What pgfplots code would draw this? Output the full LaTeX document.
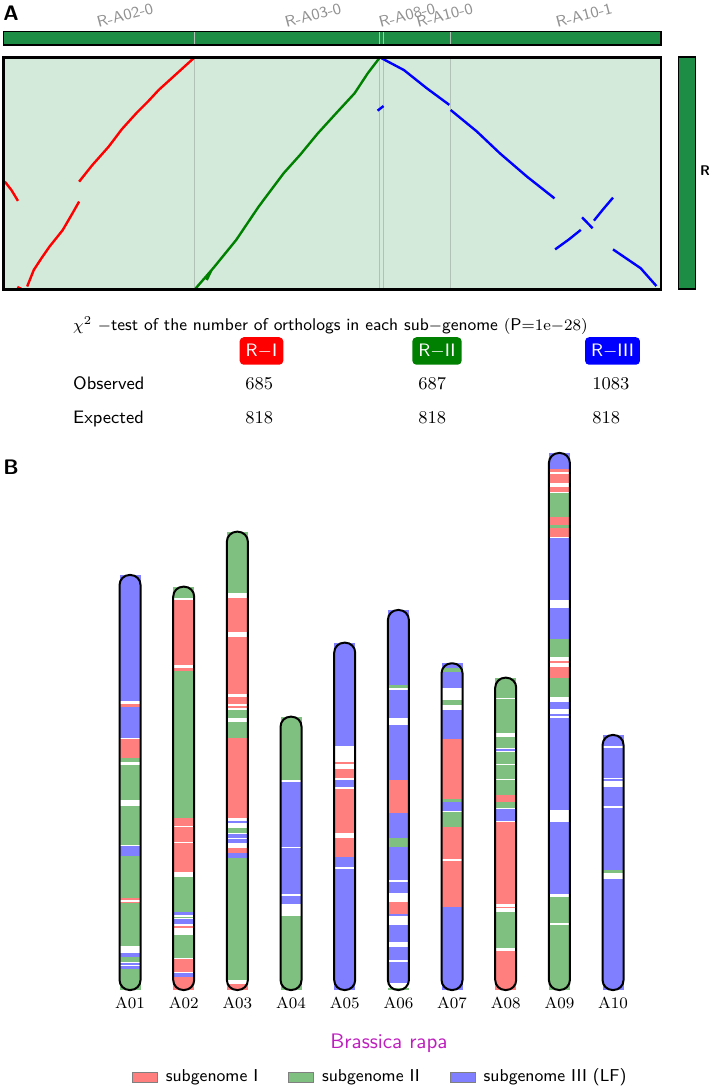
\documentclass[border=0pt]{standalone}
\usepackage{pgfplots}
\pgfplotsset{compat=1.18}
\definecolor{bgA}{RGB}{211,233,217}
\definecolor{barG}{RGB}{29,140,69}
\definecolor{sepG}{RGB}{176,194,182}
\definecolor{lnR}{RGB}{255,0,0}
\definecolor{lnG}{RGB}{0,128,0}
\definecolor{lnB}{RGB}{0,0,255}
\definecolor{sgR}{RGB}{255,127,127}
\definecolor{sgG}{RGB}{127,191,127}
\definecolor{sgB}{RGB}{127,127,255}
\definecolor{lblGray}{RGB}{145,145,145}
\definecolor{spec}{RGB}{190,30,190}

\begin{document}
\begin{tikzpicture}
\path[use as bounding box] (0,0) rectangle (355.5pt,544pt);

% ---- panel A: bar on top
\begin{axis}[at={(1.75pt,521.5pt)}, anchor=south west, scale only axis,
  width=328.75pt, height=6.65pt, xmin=0, xmax=1, ymin=0, ymax=1,
  xtick=\empty, ytick=\empty, axis background/.style={fill=barG},
  axis line style={line width=0.6pt}, axis on top, unbounded coords=jump]
\addplot[sepG, line width=0.6pt] coordinates {(0.290,0)(0.290,1)(0,nan)(0.572,0)(0.572,1)(0,nan)(0.578,0)(0.578,1)(0,nan)(0.680,0)(0.680,1)};
\end{axis}

% ---- panel A: dot plot
\begin{axis}[at={(1.75pt,399.35pt)}, anchor=south west, scale only axis,
  width=328.75pt, height=116pt, xmin=0, xmax=1, ymin=0, ymax=1,
  xtick=\empty, ytick=\empty, axis background/.style={fill=bgA},
  axis line style={line width=1.4pt}, axis on top, unbounded coords=jump]
\addplot[sepG, line width=0.6pt] coordinates {(0.290,0)(0.290,1)(0,nan)(0.572,0)(0.572,1)(0,nan)(0.578,0)(0.578,1)(0,nan)(0.680,0)(0.680,1)};
\addplot[lnR, line width=1.2pt] coordinates {
  (0.002,0.464)(0.012,0.428)(0.022,0.381)(0,nan)
  (0.021,0.010)(0.027,0.002)(0,nan)
  (0.036,0.012)(0.046,0.083)(0.058,0.135)(0.070,0.184)(0.090,0.255)(0.105,0.328)(0.115,0.378)(0,nan)
  (0.115,0.464)(0.135,0.535)(0.160,0.615)(0.180,0.690)(0.202,0.759)(0.220,0.810)(0.236,0.859)(0.264,0.931)(0.290,0.998)};
\addplot[lnG, line width=1.2pt] coordinates {
  (0.292,0.003)(0.319,0.091)(0.354,0.213)(0.388,0.356)(0.426,0.500)(0.451,0.579)(0.478,0.672)(0.506,0.759)(0.534,0.845)(0.554,0.931)(0.5715,0.996)(0,nan)
  (0.309,0.040)(0.316,0.080)};
\addplot[lnB, line width=1.2pt] coordinates {
  (0.575,0.996)(0.609,0.945)(0.644,0.866)(0.678,0.795)(0,nan)
  (0.680,0.773)(0.720,0.680)(0.755,0.586)(0.796,0.486)(0.838,0.392)(0,nan)
  (0.569,0.770)(0.578,0.790)(0,nan)
  (0.839,0.172)(0.860,0.215)(0.878,0.256)(0,nan)
  (0.898,0.296)(0.912,0.345)(0.927,0.395)(0,nan)
  (0.880,0.310)(0.896,0.263)(0,nan)
  (0.927,0.172)(0.969,0.091)(0.993,0.014)};
\end{axis}

% ---- panel A: bar on the right
\begin{axis}[at={(339.3pt,399.35pt)}, anchor=south west, scale only axis,
  width=8.45pt, height=116pt, xmin=0, xmax=1, ymin=0, ymax=1,
  xtick=\empty, ytick=\empty, axis background/.style={fill=barG},
  axis line style={line width=0.8pt}]
\end{axis}

\node[font=\fontsize{10.5}{12}\selectfont\sffamily\bfseries] at (5.5pt,537.5pt) {A};
\node[font=\fontsize{7}{8}\selectfont\sffamily\bfseries] at (352.5pt,458.5pt) {R};
\begin{scope}[every node/.style={rotate=15, inner sep=0pt, text=lblGray, font=\fontsize{7.8}{9}\selectfont\sffamily}]
\node at (62.5pt,536.3pt) {R-A02-0};
\node at (156.5pt,536.3pt) {R-A03-0};
\node at (203.5pt,536.3pt) {R-A08-0};
\node at (222.3pt,536.3pt) {R-A10-0};
\node at (292pt,536.3pt) {R-A10-1};
\end{scope}

% ---- chi-square table
\begin{scope}[every node/.style={font=\fontsize{9}{10}\selectfont\sffamily}]
\node[anchor=base west, inner xsep=0pt, font=\fontsize{8.5}{10}\selectfont\sffamily] at (36.4pt,378.7pt) {$\chi^2$ $-$test of the number of orthologs in each sub$-$genome $($P${=}1\mathrm{e}{-}28)$};
\node[fill=lnR, text=white, rounded corners=2pt, minimum height=12pt, inner xsep=3pt] at (130.75pt,368.5pt) {R$-$I};
\node[fill=lnG, text=white, rounded corners=2pt, minimum height=12pt, inner xsep=3pt] at (218.5pt,368.5pt) {R$-$II};
\node[fill=lnB, text=white, rounded corners=2pt, minimum height=12pt, inner xsep=3pt] at (306.25pt,368.5pt) {R$-$III};
\node[anchor=base west, inner xsep=0pt] at (36.4pt,349pt) {Observed};
\node[anchor=base west, inner xsep=0pt] at (122.5pt,349pt) {$685$};
\node[anchor=base west, inner xsep=0pt] at (209pt,349pt) {$687$};
\node[anchor=base west, inner xsep=0pt] at (296pt,349pt) {$1083$};
\node[anchor=base west, inner xsep=0pt] at (36.4pt,332pt) {Expected};
\node[anchor=base west, inner xsep=0pt] at (122.5pt,332pt) {$818$};
\node[anchor=base west, inner xsep=0pt] at (209pt,332pt) {$818$};
\node[anchor=base west, inner xsep=0pt] at (296pt,332pt) {$818$};
\end{scope}

\node[font=\fontsize{10.5}{12}\selectfont\sffamily\bfseries] at (5.5pt,310.5pt) {B};

% ---- panel B: chromosomes
\begin{axis}[at={(51.6pt,49pt)}, anchor=south west, scale only axis,
  width=268.35pt, height=270pt, xmin=0.5, xmax=10.5, ymin=0, ymax=540,
  axis x line*=bottom, axis y line=none, x axis line style={draw=none},
  xtick={1,...,10}, xticklabels={A01,A02,A03,A04,A05,A06,A07,A08,A09,A10},
  xtick style={draw=none}, xticklabel style={font=\fontsize{8}{9}\selectfont},
  clip=false, unbounded coords=jump,
  legend image code/.code={\draw[#1] (0pt,-2.5pt) rectangle (12.5pt,2.5pt);},
  legend columns=3,
  legend style={at={(0.518,-0.161)}, anchor=center, draw=none, fill=none,
    font=\fontsize{8.6}{10}\selectfont\sffamily,
    /tikz/every odd column/.append style={column sep=2pt},
    /tikz/every even column/.append style={column sep=13pt}}]
\addplot[sgR, line width=10.5pt, forget plot] coordinates {
  (1,282.5)(1,285.5)(1,nan)(1,231.5)(1,250.5)(1,nan)(1,90)(1,91.7)(1,nan)(1,86.7)(1,88.3)(1,nan)
  (2,325)(2,390)(2,nan)(2,319.3)(2,321.7)(2,nan)(2,164)(2,171.7)(2,nan)(2,148.3)(2,162.7)(2,nan)(2,118.3)(2,146.7)(2,nan)(2,61.7)(2,64)(2,nan)(2,18.3)(2,30.7)(2,nan)(2,0)(2,12.7)(2,nan)
  (3,358.3)(3,392.3)(3,nan)(3,295.7)(3,352.7)(3,nan)(3,285.7)(3,293.3)(3,nan)(3,282)(3,283.5)(3,nan)(3,171.7)(3,251.7)(3,nan)(3,136.7)(3,142.3)(3,nan)(3,0)(3,5.7)(3,nan)
  (5,226)(5,228.3)(5,nan)(5,211.7)(5,220.7)(5,nan)(5,156.7)(5,201)(5,nan)(5,132.7)(5,151.7)(5,nan)
  (6,176.7)(6,210)(6,nan)(6,75.7)(6,88.3)(6,nan)
  (7,191)(7,251)(7,nan)(7,131)(7,163.3)(7,nan)(7,83.3)(7,129)(7,nan)
  (8,188.3)(8,195)(8,nan)(8,85.7)(8,167.7)(8,nan)(8,81.7)(8,83.3)(8,nan)(8,0)(8,39.3)(8,nan)
  (9,517.5)(9,520.7)(9,nan)(9,506.7)(9,516)(9,nan)(9,498.3)(9,503.3)(9,nan)(9,465)(9,473.3)(9,nan)(9,453.3)(9,461.7)(9,nan)(9,327.3)(9,329.3)(9,nan)(9,311.7)(9,323.3)};
\addplot[sgG, line width=10.5pt, forget plot] coordinates {
  (1,228)(1,231.5)(1,nan)(1,190)(1,225)(1,nan)(1,145)(1,184)(1,nan)(1,92)(1,134)(1,nan)(1,44)(1,86.7)(1,nan)(1,27.7)(1,33.3)(1,nan)(1,0)(1,21.3)(1,nan)
  (2,391.7)(2,403.3)(2,nan)(2,171.7)(2,319.3)(2,nan)(2,78.3)(2,112.7)(2,nan)(2,71.7)(2,73.3)(2,nan)(2,31.7)(2,55)(2,nan)
  (3,396.7)(3,458.3)(3,nan)(3,271.7)(3,280)(3,nan)(3,251.7)(3,268.3)(3,nan)(3,156.7)(3,161.7)(3,nan)(3,10)(3,131.7)(3,nan)
  (4,210)(4,273.3)(4,nan)(4,0)(4,74.3)(4,nan)
  (6,301.7)(6,305)(6,nan)(6,143.3)(6,151.7)(6,nan)(6,0)(6,2.5)(6,nan)
  (7,318.3)(7,321.7)(7,nan)(7,285)(7,290)(7,nan)(7,188.3)(7,191)(7,nan)(7,163.3)(7,177.7)(7,nan)
  (8,292.3)(8,312.3)(8,nan)(8,256.7)(8,290.7)(8,nan)(8,242.3)(8,253.3)(8,nan)(8,226)(8,237.7)(8,nan)(8,211)(8,224.5)(8,nan)(8,195)(8,209.5)(8,nan)(8,181.7)(8,187.7)(8,nan)(8,41.7)(8,77.7)(8,nan)
  (9,473.3)(9,497.3)(9,nan)(9,461.7)(9,465)(9,nan)(9,333.3)(9,350.7)(9,nan)(9,293.3)(9,311.7)(9,nan)(9,66.5)(9,92.7)(9,nan)(9,0)(9,65)(9,nan)
  (10,116.7)(10,120)};
\addplot[sgB, line width=10.5pt, forget plot] coordinates {
  (1,288.5)(1,415)(1,nan)(1,252)(1,282.5)(1,nan)(1,134)(1,143.5)(1,nan)(1,33.3)(1,36.7)(1,nan)(1,25)(1,26.7)(1,nan)(1,21.3)(1,24)(1,nan)
  (2,75)(2,78.3)(2,nan)(2,66)(2,70.7)(2,nan)(2,12.7)(2,17.3)(2,nan)
  (3,167.3)(3,169)(3,nan)(3,151.7)(3,155.7)(3,nan)(3,146.7)(3,150.7)(3,nan)(3,131.7)(3,136.7)(3,nan)
  (4,143.3)(4,208.3)(4,nan)(4,95.7)(4,141.7)(4,nan)(4,85.7)(4,94)(4,nan)
  (5,244)(5,347.3)(5,nan)(5,207)(5,210)(5,nan)(5,202.7)(5,206.7)(5,nan)(5,123.3)(5,132.7)(5,nan)(5,0)(5,121.3)(5,nan)
  (6,305)(6,380)(6,nan)(6,271.7)(6,300)(6,nan)(6,210)(6,265)(6,nan)(6,151.7)(6,176.7)(6,nan)(6,110)(6,143.3)(6,nan)(6,96.7)(6,108.3)(6,nan)(6,74)(6,75.7)(6,nan)(6,48.3)(6,65)(6,nan)(6,30)(6,42.7)(6,nan)(6,7.3)(6,28.3)(6,nan)
  (7,321.7)(7,326.7)(7,nan)(7,301.7)(7,318.3)(7,nan)(7,251)(7,280)(7,nan)(7,179)(7,187.7)(7,nan)(7,0)(7,83.3)(7,nan)
  (8,239)(8,241)(8,nan)(8,169.3)(8,180.7)(8,nan)
  (9,520.7)(9,537)(9,nan)(9,390)(9,452.3)(9,nan)(9,350.7)(9,381.7)(9,nan)(9,280.7)(9,287.7)(9,nan)(9,274.3)(9,276)(9,nan)(9,180)(9,271.7)(9,nan)(9,96)(9,168.3)(9,nan)
  (10,244)(10,255)(10,nan)(10,212.3)(10,241.7)(10,nan)(10,209)(10,210.7)(10,nan)(10,184)(10,202.7)(10,nan)(10,120)(10,182.3)(10,nan)(10,0)(10,111)};
% chromosome outlines
\addplot[black, line width=1pt, rounded corners=5pt, forget plot] coordinates {
  (1,0)(1.1957,0)(1.1957,415)(0.8043,415)(0.8043,0)(1,0)(1,nan)
  (2,0)(2.1957,0)(2.1957,403.3)(1.8043,403.3)(1.8043,0)(2,0)(2,nan)
  (3,0)(3.1957,0)(3.1957,458.3)(2.8043,458.3)(2.8043,0)(3,0)(3,nan)
  (4,0)(4.1957,0)(4.1957,273.3)(3.8043,273.3)(3.8043,0)(4,0)(4,nan)
  (5,0)(5.1957,0)(5.1957,347.3)(4.8043,347.3)(4.8043,0)(5,0)(5,nan)
  (6,0)(6.1957,0)(6.1957,380)(5.8043,380)(5.8043,0)(6,0)(6,nan)
  (7,0)(7.1957,0)(7.1957,326.7)(6.8043,326.7)(6.8043,0)(7,0)(7,nan)
  (8,0)(8.1957,0)(8.1957,312.3)(7.8043,312.3)(7.8043,0)(8,0)(8,nan)
  (9,0)(9.1957,0)(9.1957,537)(8.8043,537)(8.8043,0)(9,0)(9,nan)
  (10,0)(10.1957,0)(10.1957,255)(9.8043,255)(9.8043,0)(10,0)};
\addlegendimage{fill=sgR, draw=gray}
\addlegendentry{subgenome I}
\addlegendimage{fill=sgG, draw=gray}
\addlegendentry{subgenome II}
\addlegendimage{fill=sgB, draw=gray}
\addlegendentry{subgenome III (LF)}
\end{axis}

\node[text=spec, font=\fontsize{10.5}{12}\selectfont\sffamily] at (194.5pt,22.5pt) {Brassica rapa};
\end{tikzpicture}
\end{document}
